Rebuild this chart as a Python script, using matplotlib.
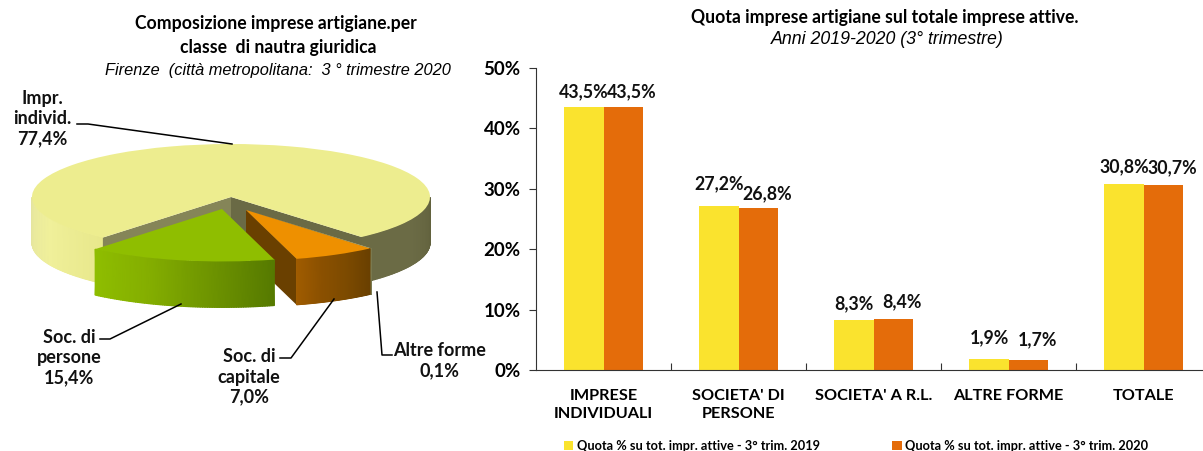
#!/usr/bin/env python3

import numpy as np
import matplotlib
matplotlib.use("Agg")
import matplotlib.pyplot as plt
from matplotlib.colors import LinearSegmentedColormap

# data
pie_names = ["Impr.\nindivid.\n77,4%", "Soc. di\npersone\n15,4%", "Soc. di\ncapitale\n7,0%", "Altre forme\n0,1%"]
pie_shares = [77.4, 15.4, 7.0, 0.1]
categories = ["IMPRESE\nINDIVIDUALI", "SOCIETA' DI\nPERSONE", "SOCIETA' A R.L.", "ALTRE FORME", "TOTALE"]
quota_2019 = [43.5, 27.2, 8.3, 1.9, 30.8]
quota_2020 = [43.5, 26.8, 8.4, 1.7, 30.7]
y_ticks = [0, 10, 20, 30, 40, 50]
legend_labels = ["Quota % su tot. impr. attive - 3° trim. 2019", "Quota % su tot. impr. attive - 3° trim. 2020"]

# hand placed value labels, pixels above the bar top
lift_2019 = [16, 22, 16, 21, 17]
lift_2020 = [16, 14, 18, 20, 17]

W, H = 1203, 451
plt.rcParams['font.family'] = ['Lato', 'DejaVu Sans']
fig = plt.figure(figsize=(W / 100, H / 100), dpi=100)

def px_axes(x0, y0, x1, y1):
    # axes placed by pixel box, y measured from the top
    return fig.add_axes([x0 / W, 1 - y1 / H, (x1 - x0) / W, (y1 - y0) / H])

# ---- overlay for texts and leaders, in pixels
ov = px_axes(0, 0, W, H)
ov.set_xlim(0, W)
ov.set_ylim(H, 0)
ov.axis('off')
ov.set_zorder(5)

# ---- pie, one unit = radius of the ellipse
cx, cy, rx, ry = 231, 197, 199, 53
depth = 46 / ry
pie_ax = px_axes(0, 90, 480, 320)
wedges, _ = pie_ax.pie(pie_shares, colors=["#EDED8F", "#8FBE00", "#EE9000", "#D8D8A0"],
                       startangle=-49, counterclock=True, radius=1)
pie_ax.set_aspect('auto')
pie_ax.set_xlim((0 - cx) / rx, (480 - cx) / rx)
pie_ax.set_ylim((cy - 320) / ry, (cy - 90) / ry)
pie_ax.set_frame_on(False)

# moved slices, offset and radius of each
centers = [(0.0, 0.0), (-9 / rx, -12 / ry), (15 / rx, -13 / ry), (15 / rx, -13 / ry)]
radii = [1.0, 0.99, 0.956, 0.956]
for w, c, r in zip(wedges, centers, radii):
    w.set_center(c)
    w.set_radius(r)
    w.set_linewidth(0)

def side(t1, t2, c, r, stops, z):
    # curved outer side with a smooth left to right shade
    cmap = LinearSegmentedColormap.from_list("s", stops)
    t = np.radians(np.linspace(t1, t2, 80))
    xa = c[0] + r * np.cos(t)
    ya = c[1] + r * np.sin(t)
    shade = np.linspace(0, 1, len(t))
    pie_ax.pcolormesh(np.array([xa, xa]), np.array([ya - depth, ya]), np.array([shade, shade]),
                      cmap=cmap, vmin=0, vmax=1, shading='gouraud', zorder=z)

def wall(t, c, r, col, z):
    # flat cut face from the centre to the rim
    a = np.radians(t)
    xs = [c[0], c[0] + r * np.cos(a), c[0] + r * np.cos(a), c[0]]
    ys = [c[1], c[1] + r * np.sin(a), c[1] + r * np.sin(a) - depth, c[1] - depth]
    pie_ax.fill(xs, ys, color=col, lw=0, zorder=z)

tot = sum(pie_shares)
edges = -49 + np.cumsum([0] + pie_shares) / tot * 360

side(180, edges[1], centers[0], radii[0], ["#E6E6A0", "#F0F09A", "#E8E88C"], 1)
side(edges[4], 360, centers[0], radii[0], ["#6B6B45", "#6B6B45", "#62623E"], 1)
wall(edges[1], centers[0], radii[0], "#858558", 2)
wall(edges[4] - 360, centers[0], radii[0], "#6A6A45", 2)
wedges[0].set_zorder(3)

side(edges[3], edges[4], centers[3], radii[3], ["#7C7C52", "#7C7C52"], 4)
wedges[3].set_zorder(5)

# orange cut face goes behind the green slice
wall(edges[2], centers[2], radii[2], "#6A4000", 5)
side(edges[1], edges[2], centers[1], radii[1], ["#8FBE00", "#84AE00", "#6E9400", "#567A00"], 6)
wedges[1].set_zorder(7)

side(edges[2], edges[3], centers[2], radii[2], ["#A05C00", "#8A5000", "#7C4A00", "#6A4000"], 7)
wedges[2].set_zorder(8)

# ---- pie titles and labels
title_kw = dict(ha='center', va='center', color='black')
ov.text(276, 24, "Composizione imprese artigiane.per", fontsize=12.7, fontweight='bold', **title_kw)
ov.text(278, 47, "classe  di nautra giuridica", fontsize=12.7, fontweight='bold', **title_kw)
ov.text(278, 70, "Firenze  (città metropolitana:  3 ° trimestre 2020", fontsize=11.8, style='italic',
        family='Liberation Sans', **title_kw)

lab_kw = dict(ha='center', va='center', fontsize=13, fontweight='bold', color='#111111', linespacing=1.22)
ov.text(42, 119, pie_names[0], **lab_kw)
ov.text(69, 358, pie_names[1], **lab_kw)
ov.text(249, 377, pie_names[2], **lab_kw)
ov.text(440, 361, pie_names[3], **lab_kw)

for xs, ys in [([77, 88, 232], [124, 124, 144]),
               ([100, 110, 181], [339, 339, 304]),
               ([280, 291, 334], [358, 358, 299]),
               ([377, 382, 392], [292, 355, 355])]:
    ov.plot(xs, ys, color='black', lw=1.1)

# ---- bars
ax = px_axes(536, 68, W, 370)
x = np.arange(len(categories))
bw = 0.289
b1 = ax.bar(x - bw / 2, quota_2019, bw, color="#FAE32E", label=legend_labels[0])
b2 = ax.bar(x + bw / 2, quota_2020, bw, color="#E46C0A", label=legend_labels[1])
ax.set_ylim(0, 50)
ax.set_yticks(y_ticks)
ax.set_yticklabels(["%d%%" % v for v in y_ticks], fontsize=13.5, fontweight='bold')
ax.set_xticks(x + 0.5)
ax.set_xticklabels([])
ax.set_xticks(x, categories, minor=True, fontsize=11.7, fontweight='bold', linespacing=1.35)
ax.set_xlim(-0.5, -0.5 + (W - 536) / 135)
ax.tick_params(axis='x', which='minor', length=0, pad=14)
ax.tick_params(axis='x', which='major', direction='in', length=5, color='#333333')
ax.tick_params(axis='y', length=5, color='#333333', pad=6)
ax.spines['top'].set_visible(False)
ax.spines['right'].set_visible(False)
ax.spines['left'].set_color('#333333')
ax.spines['bottom'].set_color('#333333')

for bars, vals, lifts, dx in [(b1, quota_2019, lift_2019, 0), (b2, quota_2020, lift_2020, 9)]:
    for b, v, lift in zip(bars, vals, lifts):
        ax.annotate(("%.1f%%" % v).replace('.', ','), (b.get_x() + b.get_width() / 2, v),
                    xytext=(dx, lift), textcoords='offset pixels', ha='center', va='center',
                    fontsize=12.8, fontweight='bold', color='#111111')

ov.text(885, 18, "Quota imprese artigiane sul totale imprese attive.", fontsize=12.7, fontweight='bold', **title_kw)
ov.text(887, 39, "Anni 2019-2020 (3° trimestre)", fontsize=12.8, style='italic', family='Liberation Sans', **title_kw)

ax.legend(ncols=2, loc='lower left', bbox_to_anchor=(560 / W, 1 - 456 / H), bbox_transform=fig.transFigure,
          frameon=False, prop=dict(size=9.2, weight='bold'), handlelength=0.75, handleheight=0.75,
          handletextpad=0.25, columnspacing=5.7, borderpad=0.3, borderaxespad=0)

fig.savefig("out.png", dpi=100)
